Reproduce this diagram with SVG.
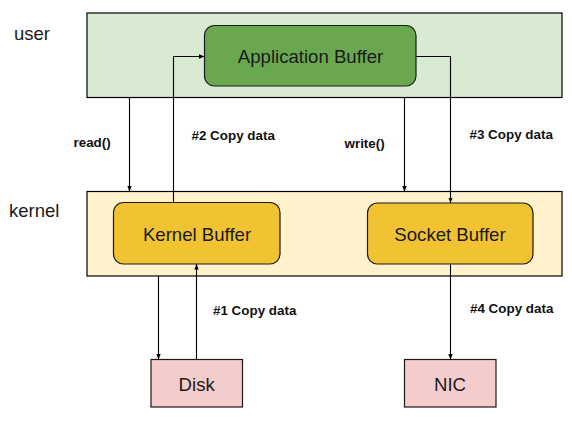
<svg xmlns="http://www.w3.org/2000/svg" width="572" height="421" viewBox="0 0 572 421">
<defs>
<style>
.zone{stroke:#000;stroke-width:1.2}
.node{stroke:#1a1a1a;stroke-width:1.2}
.t{font-family:"Liberation Sans",Arial,sans-serif;font-size:18.6px;fill:#1a1a1a;text-anchor:middle}
.side{font-family:"Liberation Sans",Arial,sans-serif;font-size:18.5px;fill:#1a1a1a}
.lbl{font-family:"Liberation Sans",Arial,sans-serif;font-size:13.4px;font-weight:bold;fill:#111}
.c{fill:none;stroke:#000;stroke-width:1.1;marker-end:url(#ah)}
</style>
<marker id="ah" markerUnits="userSpaceOnUse" markerWidth="6" markerHeight="6" viewBox="0 0 6 6" refX="5.5" refY="3" orient="auto">
<path d="M0,0.8 L5.5,3 L0,5.2 Z" fill="#000"/>
</marker>
</defs>
<rect width="572" height="421" fill="#fff"/>
<g id="user-zone">
<rect class="zone" x="87" y="13" width="475" height="84.5" fill="#d9ead3"/>
<text class="side" x="14" y="40">user</text>
</g>
<g id="kernel-zone">
<rect class="zone" x="87" y="191.5" width="475" height="84.5" fill="#fff2cc"/>
<text class="side" x="9" y="217">kernel</text>
</g>
<g id="app-buffer">
<rect class="node" x="204.5" y="25.5" width="211.5" height="60.5" rx="10" fill="#6aa84f"/>
<text class="t" x="310.5" y="62.5">Application Buffer</text>
</g>
<g id="kernel-buffer">
<rect class="node" x="113.5" y="202.5" width="166.5" height="61.5" rx="10" fill="#f1c232"/>
<text class="t" x="197" y="241">Kernel Buffer</text>
</g>
<g id="socket-buffer">
<rect class="node" x="367.5" y="203" width="165.5" height="61" rx="10" fill="#f1c232"/>
<text class="t" x="450" y="241">Socket Buffer</text>
</g>
<g id="disk">
<rect class="node" x="151" y="359.5" width="91.5" height="47.5" fill="#f4cccc"/>
<text class="t" x="196.7" y="390.5">Disk</text>
</g>
<g id="nic">
<rect class="node" x="404.5" y="359.5" width="91.5" height="47.5" fill="#f4cccc"/>
<text class="t" x="450" y="390.5">NIC</text>
</g>
<g id="connectors">
<path class="c" d="M129.5,97.5 V191.5"/>
<path class="c" d="M173.5,202.5 V56.5 H204.5"/>
<path class="c" d="M404.5,97.5 V191.5"/>
<path class="c" d="M416,56.5 H450.5 V203"/>
<path class="c" d="M158.5,276 V359.5"/>
<path class="c" d="M196.5,359.5 V264"/>
<path class="c" d="M450.5,264 V359.5"/>
</g>
<g id="labels">
<text class="lbl" x="73.5" y="147">read()</text>
<text class="lbl" x="191.5" y="140">#2 Copy data</text>
<text class="lbl" x="344.5" y="148">write()</text>
<text class="lbl" x="469.5" y="139">#3 Copy data</text>
<text class="lbl" x="213" y="315">#1 Copy data</text>
<text class="lbl" x="470" y="313">#4 Copy data</text>
</g>
</svg>
